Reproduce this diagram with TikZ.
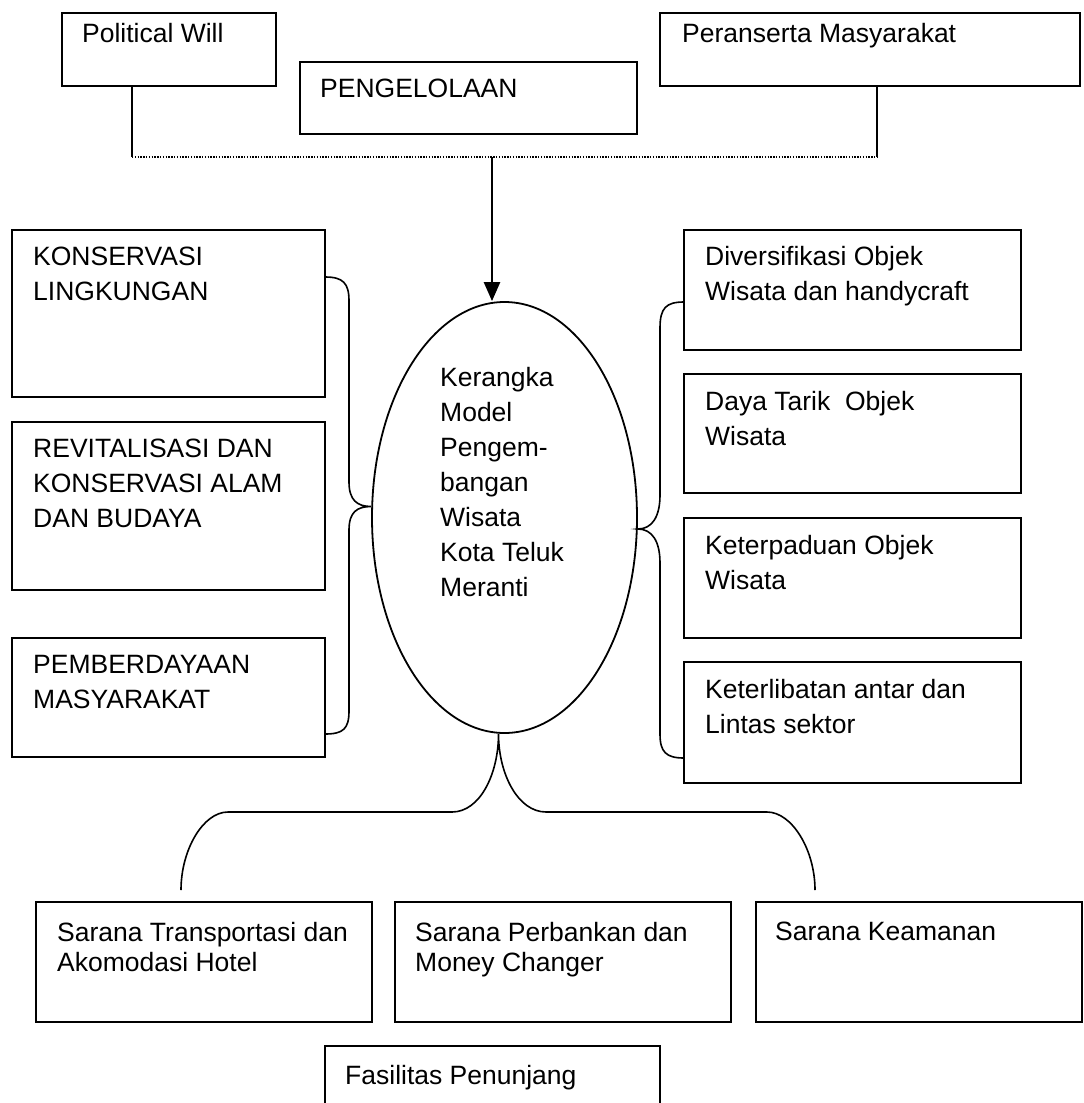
\documentclass[tikz,border=0pt]{standalone}
\usepackage{fontspec}
\setmainfont{Liberation Sans}
\usetikzlibrary{calc,shapes.geometric,arrows.meta}

\tikzset{
  kotak/.style={draw, line width=1.8pt, anchor=north west, inner sep=0pt, outer sep=0pt},
  tulisan/.style={anchor=north west, inner sep=0pt, align=left, font=\fontsize{26.5}{35}\selectfont},
  tulisanrapat/.style={tulisan, font=\fontsize{26.5}{30}\selectfont},
  kurung/.style={line width=1.6pt},
  garis/.style={line width=1.2pt},
  titik/.style={line width=1.6pt, dash pattern=on 1.4pt off 1.4pt},
  panah/.style={line width=2.5pt, -{Triangle[length=19pt,width=16pt]}},
}

\begin{document}
\begin{tikzpicture}[x=1pt, y=-1pt]
\clip (0,0) rectangle (1084,1103);
%% top boxes;
\node[kotak, minimum width=214pt, minimum height=73pt] (pw) at (62,13) {};
\node[tulisan] (pwT) at (82,23) {Political Will};
\node[kotak, minimum width=337pt, minimum height=72pt] (pg) at (300,62) {};
\node[tulisan] (pgT) at (320,79) {PENGELOLAAN};
\node[kotak, minimum width=420pt, minimum height=73pt] (pm) at (660,13) {};
\node[tulisan] (pmT) at (682,23) {Peranserta Masyarakat};
%% joining line;
\coordinate (gL) at (132,157);
\coordinate (gR) at (877,157);
\coordinate (gM) at (492,157);
\draw[garis] ($(pw.south west)+(70,0)$) -- (gL);
\draw[garis] ($(pm.south west)+(217,0)$) -- (gR);
\draw[titik] (gL) -- (gR);
%% ellipse;
\node[draw, ellipse, line width=1.8pt, inner sep=0pt, minimum width=265pt, minimum height=431pt] (model) at (504.5,517.5) {};
\node[tulisan] (modelT) at (440,367) {Kerangka\\Model\\Pengem-\\bangan\\Wisata\\Kota Teluk\\Meranti};
\draw[panah] (gM) -- (model.north -| gM);
%% left boxes;
\node[kotak, minimum width=313pt, minimum height=167pt] (kons) at (12,230) {};
\node[tulisan] (konsT) at (33,247) {KONSERVASI\\LINGKUNGAN};
\node[kotak, minimum width=313pt, minimum height=168pt] (rev) at (12,422) {};
\node[tulisan] (revT) at (33,439) {REVITALISASI DAN\\KONSERVASI ALAM\\DAN BUDAYA};
\node[kotak, minimum width=313pt, minimum height=119pt] (pem) at (12,638) {};
\node[tulisan] (pemT) at (33,655) {PEMBERDAYAAN\\MASYARAKAT};
%% right boxes;
\node[kotak, minimum width=337pt, minimum height=120pt] (div) at (684,230) {};
\node[tulisan] (divT) at (705,246) {Diversifikasi Objek\\Wisata dan handycraft};
\node[kotak, minimum width=337pt, minimum height=119pt] (daya) at (684,374) {};
\node[tulisan] (dayaT) at (705,391) {Daya Tarik\ \ Objek\\Wisata};
\node[kotak, minimum width=337pt, minimum height=120pt] (padu) at (684,518) {};
\node[tulisan] (paduT) at (705,535) {Keterpaduan Objek\\Wisata};
\node[kotak, minimum width=337pt, minimum height=121pt] (libat) at (684,662) {};
\node[tulisan] (libatT) at (705,679) {Keterlibatan antar dan\\Lintas sektor};
%% bottom boxes;
\node[kotak, minimum width=336pt, minimum height=120pt] (s1) at (36,902) {};
\node[tulisanrapat] (s1T) at (57,922) {Sarana Transportasi dan\\Akomodasi Hotel};
\node[kotak, minimum width=336pt, minimum height=120pt] (s2) at (395,902) {};
\node[tulisanrapat] (s2T) at (415,922) {Sarana Perbankan dan\\Money Changer};
\node[kotak, minimum width=326pt, minimum height=120pt] (s3) at (756,902) {};
\node[tulisanrapat] (s3T) at (775,922) {Sarana Keamanan};
\node[kotak, minimum width=335pt, minimum height=100pt] (fas) at (325,1046) {};
\node[tulisan] (fasT) at (345,1065) {Fasilitas Penunjang};
%% left brace;
\coordinate (kA) at ([yshift=-47pt]kons.north east);
\coordinate (kB) at ([yshift=23pt]pem.south east);
\coordinate (kT) at ([yshift=11pt]model.west);
\draw[kurung] (kA) .. controls +(18,0) and +(0,-18) .. (349,301) -- (349,482)
  .. controls +(0,18) and +(-14,0) .. (kT)
  .. controls +(-14,0) and +(0,-18) .. (349,530) -- (349,711)
  .. controls +(0,18) and +(18,0) .. (kB);
%% right brace;
\coordinate (rA) at ([yshift=-72pt]div.north west);
\coordinate (rB) at ([yshift=25pt]libat.south west);
\coordinate (rT) at ([yshift=-11.5pt]model.east);
\draw[kurung] (rA) .. controls +(-18,0) and +(0,-20) .. (660,328) -- (660,495)
  .. controls +(0,22) and +(14,0) .. (rT)
  .. controls +(14,0) and +(0,-22) .. (660,563) -- (660,734)
  .. controls +(0,18) and +(-18,0) .. (rB);
%% bottom brace;
\coordinate (bT) at ([xshift=-6pt]model.south);
\coordinate (bL) at (181,890);
\coordinate (bR) at (815,890);
\draw[kurung] (bL) .. controls +(0,-40) and +(-25,0) .. (228,812) -- (452,812)
  .. controls +(28,0) and +(0,40) .. (bT)
  .. controls +(0,40) and +(-28,0) .. (546,812) -- (767,812)
  .. controls +(25,0) and +(0,-40) .. (bR);
\end{tikzpicture}
\end{document}
